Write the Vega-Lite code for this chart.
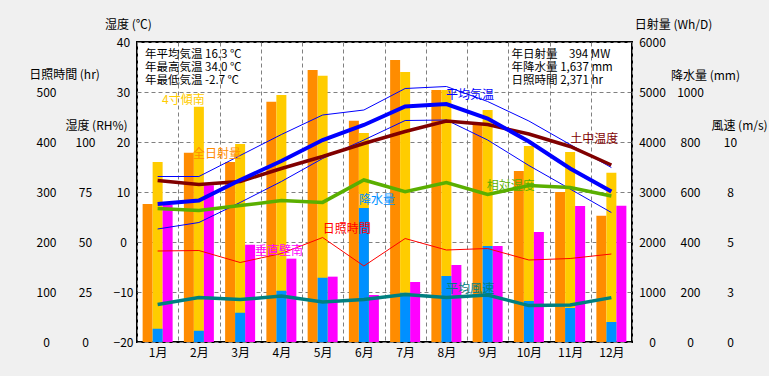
{
  "$schema": "https://vega.github.io/schema/vega-lite/v6.json",
  "width": 495,
  "height": 300,
  "autosize": {"type": "none"},
  "padding": {"left": 137, "top": 42, "right": 137, "bottom": 34},
  "background": "#f0f0f0",
  "config": {
    "view": {"fill": "white", "stroke": "black", "strokeWidth": 2},
    "font": "Noto Sans CJK JP",
    "axis": {
      "labelFont": "Liberation Sans Narrow, Noto Sans CJK JP", "titleFont": "Noto Sans CJK JP",
      "labelFontSize": 12, "titleFontSize": 12, "titleFontWeight": "normal",
      "labelColor": "black", "titleColor": "black",
      "ticks": false, "domain": false, "grid": false,
      "gridColor": "#808080", "gridDash": [4, 3], "gridWidth": 1, "gridOpacity": 1,
      "titleAngle": 0, "titleAlign": "center", "titleBaseline": "middle",
      "labelFlush": false, "labelOverlap": false
    },
    "text": {"font": "Noto Sans CJK JP", "fontSize": 12}
  },
  "datasets": {
    "climate": [
      {"month": "1月", "全日射量": 2760, "4寸傾南": 3600, "垂直壁南": 2740, "rain": 53, "sun": 182, "tavg": 7.6, "tmax": 13.1, "tmin": 2.6, "soil": 12.3, "rh": 66.8, "wind": 1.88},
      {"month": "2月", "全日射量": 3787, "4寸傾南": 4707, "垂直壁南": 3133, "rain": 45, "sun": 183, "tavg": 8.3, "tmax": 13.1, "tmin": 3.9, "soil": 11.5, "rh": 65.8, "wind": 2.22},
      {"month": "3月", "全日射量": 3600, "4寸傾南": 3960, "垂直壁南": 1947, "rain": 117, "sun": 159, "tavg": 12.4, "tmax": 17.3, "tmin": 7.9, "soil": 12.1, "rh": 68.2, "wind": 2.12},
      {"month": "4月", "全日射量": 4807, "4寸傾南": 4940, "垂直壁南": 1667, "rain": 205, "sun": 177, "tavg": 16.2, "tmax": 21.5, "tmin": 12.1, "soil": 14.7, "rh": 70.7, "wind": 2.3},
      {"month": "5月", "全日射量": 5440, "4寸傾南": 5327, "垂直壁南": 1307, "rain": 257, "sun": 209, "tavg": 20.4, "tmax": 25.4, "tmin": 16.7, "soil": 17.1, "rh": 69.8, "wind": 2.0},
      {"month": "6月", "全日射量": 4427, "4寸傾南": 4180, "垂直壁南": 940, "rain": 536, "sun": 152, "tavg": 23.4, "tmax": 26.4, "tmin": 20.4, "soil": 19.7, "rh": 81.0, "wind": 2.13},
      {"month": "7月", "全日射量": 5640, "4寸傾南": 5400, "垂直壁南": 1200, "rain": 197, "sun": 207, "tavg": 27.1, "tmax": 30.7, "tmin": 24.3, "soil": 22.1, "rh": 75.2, "wind": 2.38},
      {"month": "8月", "全日射量": 5040, "4寸傾南": 5040, "垂直壁南": 1540, "rain": 264, "sun": 184, "tavg": 27.6, "tmax": 31.1, "tmin": 24.4, "soil": 24.2, "rh": 79.7, "wind": 2.22},
      {"month": "9月", "全日射量": 4373, "4寸傾南": 4640, "垂直壁南": 1920, "rain": 384, "sun": 187, "tavg": 24.7, "tmax": 28.1, "tmin": 20.4, "soil": 23.5, "rh": 73.8, "wind": 2.35},
      {"month": "10月", "全日射量": 3420, "4寸傾南": 3920, "垂直壁南": 2200, "rain": 164, "sun": 164, "tavg": 20.1, "tmax": 24.2, "tmin": 15.3, "soil": 21.6, "rh": 78.2, "wind": 1.82},
      {"month": "11月", "全日射量": 3000, "4寸傾南": 3800, "垂直壁南": 2720, "rain": 136, "sun": 167, "tavg": 14.7, "tmax": 19.5, "tmin": 10.6, "soil": 19.1, "rh": 77.2, "wind": 1.85},
      {"month": "12月", "全日射量": 2527, "4寸傾南": 3387, "垂直壁南": 2727, "rain": 80, "sun": 176, "tavg": 10.1, "tmax": 14.9, "tmin": 5.9, "soil": 15.4, "rh": 73.0, "wind": 2.22}
    ],
    "labels": [
      {"text": "4寸傾南", "mx": 0.606, "t": 28.5},
      {"text": "全日射量", "mx": 1.358, "t": 17.6},
      {"text": "垂直壁南", "mx": 2.86, "t": -1.8},
      {"text": "日照時間", "mx": 4.5, "t": 2.7},
      {"text": "降水量", "mx": 5.38, "t": 8.5},
      {"text": "平均気温", "mx": 7.49, "t": 29.4},
      {"text": "土中温度", "mx": 10.5, "t": 20.7},
      {"text": "相対湿度", "mx": 8.48, "t": 11.3},
      {"text": "平均風速", "mx": 7.49, "t": -9.3}
    ],
    "stats": [
      {"block": "年平均気温 16.3 ℃\n年最高気温 34.0 ℃\n年最低気温 -2.7 ℃", "xl": 0.194, "t": 37.5},
      {"block": "年日射量 \u2007\u00a0394 MW\n年降水量 1,637 mm\n日照時間 2,371 hr", "xl": 9.08, "t": 37.5}
    ]
  },
  "data": {"name": "climate"},
  "resolve": {"scale": {"x": "independent", "y": "independent", "xOffset": "independent", "color": "independent"}},
  "layer": [
    {
      "transform": [{"fold": ["全日射量", "4寸傾南", "垂直壁南"], "as": ["series", "value"]}],
      "mark": {"type": "bar"},
      "encoding": {
        "x": {"field": "month", "type": "nominal", "sort": ["1月","2月","3月","4月","5月","6月","7月","8月","9月","10月","11月","12月"], "scale": {"paddingInner": 0, "paddingOuter": 0}, "axis": {"title": null, "labelAngle": 0, "grid": true, "tickBand": "extent", "labelPadding": 5}},
        "xOffset": {"field": "series", "type": "nominal", "sort": ["全日射量", "4寸傾南", "垂直壁南"], "scale": {"domain": ["全日射量", "4寸傾南", "垂直壁南"], "paddingInner": 0, "paddingOuter": 0.5625}},
        "y": {"field": "value", "type": "quantitative", "stack": null, "scale": {"domain": [0, 6000], "nice": false}, "axis": {"orient": "right", "values": [0, 1000, 2000, 3000, 4000, 5000, 6000], "format": "d", "labelPadding": 20, "labelAlign": "center", "title": "日射量 (Wh/D)", "titleX": 41, "titleY": -18}},
        "color": {"field": "series", "type": "nominal", "scale": {"domain": ["全日射量", "4寸傾南", "垂直壁南"], "range": ["#FF8C00", "#FFCC00", "#FF00FF"]}, "legend": null}
      }
    },
    {
      "mark": {"type": "bar", "color": "#0090FF"},
      "encoding": {
        "x": {"field": "month", "type": "nominal", "sort": ["1月","2月","3月","4月","5月","6月","7月","8月","9月","10月","11月","12月"], "scale": {"paddingInner": 0, "paddingOuter": 0}, "axis": null},
        "xOffset": {"datum": "4寸傾南", "scale": {"domain": ["全日射量", "4寸傾南", "垂直壁南"], "paddingInner": 0, "paddingOuter": 0.5625}},
        "y": {"field": "rain", "type": "quantitative", "scale": {"domain": [0, 1200], "nice": false}, "axis": {"orient": "right", "values": [0, 200, 400, 600, 800, 1000], "format": "d", "labelPadding": 58, "labelAlign": "center", "title": "降水量 (mm)", "titleX": 73, "titleY": 33}}
      }
    },
    {
      "mark": {"type": "line", "color": "#FF0000", "strokeWidth": 1},
      "encoding": {
        "x": {"field": "month", "type": "nominal", "sort": ["1月","2月","3月","4月","5月","6月","7月","8月","9月","10月","11月","12月"], "scale": {"paddingInner": 0, "paddingOuter": 0}, "axis": null},
        "y": {"field": "sun", "type": "quantitative", "scale": {"domain": [0, 600], "nice": false}, "axis": {"orient": "left", "values": [0, 100, 200, 300, 400, 500], "format": "d", "labelPadding": 91, "labelAlign": "center", "title": "日照時間 (hr)", "titleX": -73, "titleY": 32}}
      }
    },
    {
      "mark": {"type": "line", "color": "#0000FF", "strokeWidth": 1},
      "encoding": {
        "x": {"field": "month", "type": "nominal", "sort": ["1月","2月","3月","4月","5月","6月","7月","8月","9月","10月","11月","12月"], "scale": {"paddingInner": 0, "paddingOuter": 0}, "axis": null},
        "y": {"field": "tmax", "type": "quantitative", "scale": {"domain": [-20, 40], "nice": false, "zero": false}, "axis": {"orient": "left", "values": [-20, -10, 0, 10, 20, 30, 40], "format": "d", "grid": true, "labelPadding": 14, "labelAlign": "center", "title": "湿度 (℃)", "titleX": -9, "titleY": -18}}
      }
    },
    {
      "mark": {"type": "line", "color": "#0000FF", "strokeWidth": 1},
      "encoding": {
        "x": {"field": "month", "type": "nominal", "sort": ["1月","2月","3月","4月","5月","6月","7月","8月","9月","10月","11月","12月"], "scale": {"paddingInner": 0, "paddingOuter": 0}, "axis": null},
        "y": {"field": "tmin", "type": "quantitative", "scale": {"domain": [-20, 40], "nice": false, "zero": false}, "axis": null}
      }
    },
    {
      "mark": {"type": "line", "color": "#5AAF00", "strokeWidth": 3.5},
      "encoding": {
        "x": {"field": "month", "type": "nominal", "sort": ["1月","2月","3月","4月","5月","6月","7月","8月","9月","10月","11月","12月"], "scale": {"paddingInner": 0, "paddingOuter": 0}, "axis": null},
        "y": {"field": "rh", "type": "quantitative", "scale": {"domain": [0, 150], "nice": false}, "axis": {"orient": "left", "values": [0, 25, 50, 75, 100], "format": "d", "labelPadding": 52, "labelAlign": "center", "title": "湿度 (RH%)", "titleX": -41, "titleY": 83}}
      }
    },
    {
      "mark": {"type": "line", "color": "#008080", "strokeWidth": 3.5},
      "encoding": {
        "x": {"field": "month", "type": "nominal", "sort": ["1月","2月","3月","4月","5月","6月","7月","8月","9月","10月","11月","12月"], "scale": {"paddingInner": 0, "paddingOuter": 0}, "axis": null},
        "y": {"field": "wind", "type": "quantitative", "scale": {"domain": [0, 15], "nice": false}, "axis": {"orient": "right", "values": [0, 2.5, 5, 7.5, 10], "format": ".0f", "labelPadding": 98, "labelAlign": "center", "title": "風速 (m/s)", "titleX": 107, "titleY": 83}}
      }
    },
    {
      "mark": {"type": "line", "color": "#800000", "strokeWidth": 3.5},
      "encoding": {
        "x": {"field": "month", "type": "nominal", "sort": ["1月","2月","3月","4月","5月","6月","7月","8月","9月","10月","11月","12月"], "scale": {"paddingInner": 0, "paddingOuter": 0}, "axis": null},
        "y": {"field": "soil", "type": "quantitative", "scale": {"domain": [-20, 40], "nice": false, "zero": false}, "axis": null}
      }
    },
    {
      "mark": {"type": "line", "color": "#0000FF", "strokeWidth": 4},
      "encoding": {
        "x": {"field": "month", "type": "nominal", "sort": ["1月","2月","3月","4月","5月","6月","7月","8月","9月","10月","11月","12月"], "scale": {"paddingInner": 0, "paddingOuter": 0}, "axis": null},
        "y": {"field": "tavg", "type": "quantitative", "scale": {"domain": [-20, 40], "nice": false, "zero": false}, "axis": null}
      }
    },
    {
      "data": {"name": "labels"},
      "mark": {"type": "text", "align": "left", "baseline": "middle", "fontSize": 12},
      "encoding": {
        "x": {"field": "mx", "type": "quantitative", "scale": {"domain": [0, 12], "nice": false, "zero": false}, "axis": null},
        "y": {"field": "t", "type": "quantitative", "scale": {"domain": [-20, 40], "nice": false, "zero": false}, "axis": null},
        "text": {"field": "text"},
        "color": {"field": "text", "type": "nominal", "scale": {"domain": ["4寸傾南", "全日射量", "垂直壁南", "日照時間", "降水量", "平均気温", "土中温度", "相対湿度", "平均風速"], "range": ["#FFCC00", "#FF8C00", "#FF00FF", "#FF0000", "#0090FF", "#0000FF", "#800000", "#5AAF00", "#008080"]}, "legend": null}
      }
    },
    {
      "data": {"name": "stats"},
      "mark": {"type": "text", "align": "left", "baseline": "middle", "fontSize": 11.5, "color": "black", "lineBreak": "\n", "lineHeight": 13},
      "encoding": {
        "x": {"field": "xl", "type": "quantitative", "scale": {"domain": [0, 12], "nice": false, "zero": false}, "axis": null},
        "y": {"field": "t", "type": "quantitative", "scale": {"domain": [-20, 40], "nice": false, "zero": false}, "axis": null},
        "text": {"field": "block"}
      }
    }
  ]
}
